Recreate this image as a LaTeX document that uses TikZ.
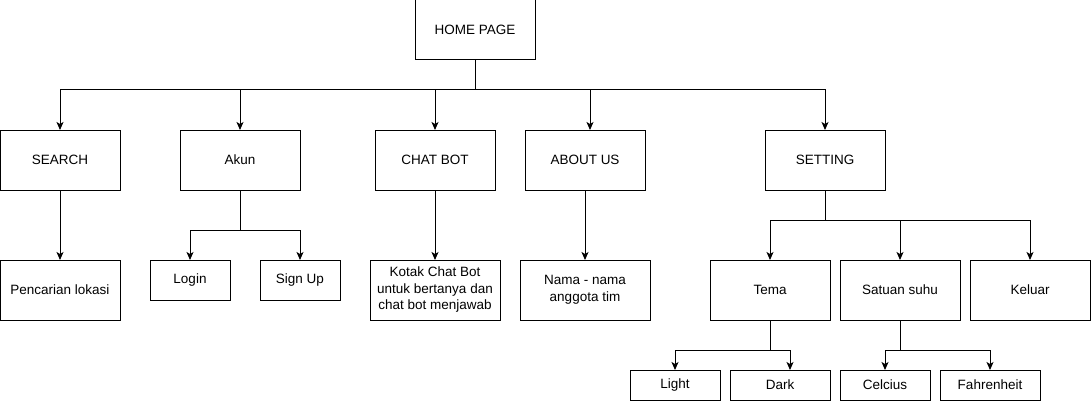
\documentclass[tikz,border=0pt]{standalone}
\usepackage{fontspec}
\setmainfont{Liberation Sans}
\usepackage{tikz}
\usetikzlibrary{positioning, arrows.meta}

\begin{document}
\begin{tikzpicture}[x=1pt, y=1pt, line width=1pt, >={Stealth[length=8pt, width=7pt, inset=2pt]},
            font=\fontsize{13.5}{16.5}\selectfont,
            box/.style={draw, rectangle, align=center, inner sep=0pt, outer sep=0pt, minimum width=120pt, minimum height=60pt},
            wide/.style={box, minimum width=130pt},
            small/.style={box, minimum width=80pt, minimum height=40pt},
            tiny/.style={box, minimum width=90pt, minimum height=30pt}]
            \useasboundingbox (0,0) rectangle (1091,-401);

            \node [box] (home) at (475,-30) {HOME PAGE};
            \node [box, below=70pt of home, xshift=-415pt] (search) {SEARCH};
            \node [box, right=60pt of search] (akun) {Akun};
            \node [box, right=75pt of akun] (chatbot) {CHAT BOT};
            \node [box, right=30pt of chatbot] (about) {ABOUT US};
            \node [box, right=120pt of about] (setting) {SETTING};

            \node [box, below=70pt of search] (lokasi) {Pencarian lokasi};
            \node [small, below=70pt of akun, xshift=-50pt] (login) {Login};
            \node [small, right=30pt of login] (signup) {Sign Up};
            \node [wide, below=70pt of chatbot] (kotak) {Kotak Chat Bot\\ untuk bertanya dan\\ chat bot menjawab};
            \node [wide, below=70pt of about] (nama) {Nama - nama\\ anggota tim};
            \node [box, below=70pt of setting, xshift=-55pt] (tema) {Tema};
            \node [box, right=10pt of tema] (suhu) {Satuan suhu};
            \node [box, right=10pt of suhu] (keluar) {Keluar};

            \node [tiny, below=50pt of tema, xshift=-95pt] (light) {Light};
            \node [tiny, right=10pt of light, minimum width=100pt] (dark) {Dark};
            \node [tiny, below=50pt of suhu, xshift=-15pt] (celcius) {Celcius};
            \node [tiny, right=10pt of celcius, minimum width=100pt] (fahrenheit) {Fahrenheit};

            \draw [->] (home.south) -- ++(0,-30) -| (search.north);
            \draw [->] (home.south) -- ++(0,-30) -| (akun.north);
            \draw [->] (home.south) -- ++(0,-30) -| (chatbot.north);
            \draw [->] (home.south) -- ++(0,-30) -| ([xshift=5pt]about.north);
            \draw [->] (home.south) -- ++(0,-30) -| (setting.north);

            \draw [->] (search) -- (lokasi);
            \draw [->] (akun.south) -- ++(0,-40) -| (login.north);
            \draw [->] (akun.south) -- ++(0,-40) -| (signup.north);
            \draw [->] (chatbot) -- (kotak);
            \draw [->] (about) -- (nama);

            \draw [->] (setting.south) -- ++(0,-30) -| (tema.north);
            \draw [->] (setting.south) -- ++(0,-30) -| (suhu.north);
            \draw [->] (setting.south) -- ++(0,-30) -| (keluar.north);

            \draw [->] (tema.south) -- ++(0,-30) -| (light.north);
            \draw [->] (tema.south) -- ++(0,-30) -| ([xshift=10pt]dark.north);
            \draw [->] (suhu.south) -- ++(0,-30) -| (celcius.north);
            \draw [->] (suhu.south) -- ++(0,-30) -| (fahrenheit.north);
          \end{tikzpicture}
\end{document}
